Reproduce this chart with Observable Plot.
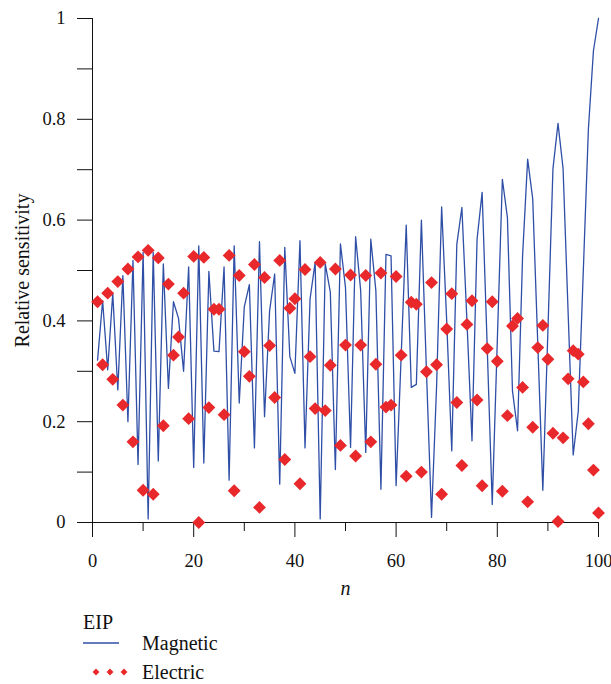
<!DOCTYPE html>
<html><head><meta charset="utf-8">
<script src="https://cdn.jsdelivr.net/npm/d3@7"></script>
<script src="https://cdn.jsdelivr.net/npm/@observablehq/plot@0.6"></script>
<style>body{margin:0;background:#fff;} svg{display:block}</style>
</head><body><div id="chart"></div><script>
const nValues = [1,2,3,4,5,6,7,8,9,10,11,12,13,14,15,16,17,18,19,20,21,22,23,24,25,26,27,28,29,30,31,32,33,34,35,36,37,38,39,40,41,42,43,44,45,46,47,48,49,50,51,52,53,54,55,56,57,58,59,60,61,62,63,64,65,66,67,68,69,70,71,72,73,74,75,76,77,78,79,80,81,82,83,84,85,86,87,88,89,90,91,92,93,94,95,96,97,98,99,100];
const magnetic = [0.322,0.44,0.303,0.455,0.263,0.49,0.2,0.52,0.115,0.536,0.007,0.536,0.122,0.513,0.266,0.438,0.405,0.3,0.507,0.109,0.549,0.118,0.498,0.34,0.339,0.507,0.084,0.549,0.237,0.428,0.472,0.148,0.557,0.21,0.42,0.493,0.076,0.546,0.329,0.296,0.559,0.148,0.444,0.516,0.007,0.513,0.457,0.105,0.553,0.466,0.149,0.567,0.46,0.139,0.562,0.46,0.066,0.532,0.529,0.073,0.33,0.59,0.268,0.274,0.6,0.3,0.01,0.27,0.626,0.4,0.142,0.552,0.625,0.4,0.162,0.562,0.655,0.35,0.036,0.36,0.681,0.605,0.261,0.182,0.53,0.721,0.642,0.355,0.064,0.38,0.702,0.792,0.702,0.415,0.134,0.221,0.5,0.78,0.936,1.0];
const electric = [0.438,0.313,0.455,0.284,0.478,0.233,0.503,0.16,0.527,0.064,0.54,0.056,0.525,0.192,0.473,0.332,0.368,0.455,0.206,0.528,0.0,0.526,0.228,0.423,0.423,0.214,0.53,0.063,0.49,0.339,0.29,0.512,0.03,0.486,0.351,0.248,0.52,0.125,0.425,0.444,0.077,0.502,0.329,0.226,0.516,0.222,0.312,0.503,0.153,0.352,0.491,0.132,0.352,0.49,0.16,0.314,0.495,0.229,0.233,0.488,0.332,0.092,0.437,0.433,0.1,0.299,0.476,0.313,0.056,0.384,0.454,0.238,0.113,0.393,0.44,0.243,0.073,0.345,0.438,0.32,0.062,0.212,0.39,0.405,0.268,0.041,0.189,0.347,0.391,0.324,0.177,0.002,0.168,0.285,0.341,0.334,0.279,0.196,0.104,0.019];
const yTicksMajor = [0,0.2,0.4,0.6,0.8,1];
const yTicksMinor = [0.1,0.3,0.5,0.7,0.9];
const xTicksMajor = [0,20,40,60,80,100];
const xTicksMinor = [10,30,50,70,90];
const seriesNames = ["Magnetic","Electric"];
const legendTitle = "EIP";
const yLabel = "Relative sensitivity";
const xLabel = "n";

const blue = "#2f4fa7";
const red = "#e8282b";
const font = "serif";

const data = nValues.map((d, i) => ({n: d, magnetic: magnetic[i], electric: electric[i]}));

const plot = Plot.plot({
  width: 611, height: 605,
  marginLeft: 92, marginRight: 13, marginTop: 18, marginBottom: 83,
  style: {fontFamily: font, fontSize: "18px", color: "#111", background: "white", overflow: "visible"},
  x: {domain: [0, 100]},
  y: {domain: [0, 1]},
  marks: [
    Plot.axisY(yTicksMajor, {tickSize: 15, tickPadding: 12, tickFormat: d => String(d), label: null, fontSize: 18.5, fontFamily: font}),
    Plot.axisY(yTicksMinor, {tickSize: 15, tickFormat: () => "", label: null}),
    Plot.axisX(xTicksMajor, {tickSize: 15, tickPadding: 16, tickFormat: d => String(d), label: null, fontSize: 18.5, fontFamily: font}),
    Plot.axisX(xTicksMinor, {tickSize: 9, tickFormat: () => "", label: null}),
    Plot.ruleX([0], {y1: 0, y2: 1, stroke: "#111"}),
    Plot.ruleY([0], {x1: 0, x2: 100, stroke: "#111"}),
    Plot.lineY(data, {x: "n", y: "magnetic", stroke: blue, strokeWidth: 1.3}),
    Plot.dot(data, {x: "n", y: "electric", symbol: "diamond2", r: 5.8, fill: red, stroke: "none"}),
    Plot.text([yLabel], {frameAnchor: "left", textAnchor: "middle", dx: -70, rotate: -90, fontSize: 20, fontFamily: font, fill: "#111"}),
    Plot.text([xLabel], {frameAnchor: "bottom", dy: 72, fontStyle: "italic", fontSize: 20, fontFamily: font, fill: "#111"})
  ]
});
document.getElementById("chart").appendChild(plot);

const leg = d3.create("svg").attr("width", 611).attr("height", 79);
leg.append("text").attr("x", 83).attr("y", 17).attr("dy", "0.35em").attr("fill", "#111").text(legendTitle);
leg.append("line").attr("x1", 83).attr("x2", 119).attr("y1", 38).attr("y2", 38)
  .attr("stroke", blue).attr("stroke-width", 1.3);
leg.append("text").attr("x", 142).attr("y", 38).attr("dy", "0.35em").attr("fill", "#111").text(seriesNames[0]);
[96, 110, 124].forEach(x => leg.append("path")
  .attr("d", d3.symbol(d3.symbolDiamond2, 30)())
  .attr("transform", `translate(${x},67)`).attr("fill", red));
leg.append("text").attr("x", 142).attr("y", 67).attr("dy", "0.35em").attr("fill", "#111").text(seriesNames[1]);
leg.selectAll("text").attr("font-size", 20).attr("font-family", font);
document.getElementById("chart").appendChild(leg.node());

document.querySelectorAll("#chart text").forEach(t => { t.setAttribute("font-family", font); t.style.fontFamily = font; });
</script></body></html>
